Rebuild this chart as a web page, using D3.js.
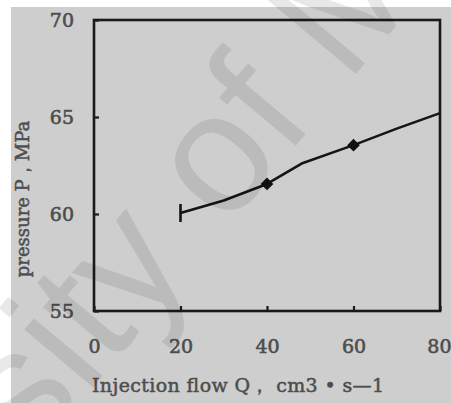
<!DOCTYPE html>
<html>
<head>
<meta charset="utf-8">
<script src="https://cdn.jsdelivr.net/npm/d3@7"></script>
<style>
  body { margin: 0; background: #fff; }
  svg { display: block; }
</style>
</head>
<body>
<svg id="chart" width="451" height="403"></svg>
<script>
// values
const curveQ = [20, 30, 40, 48, 60, 70, 80];
const curveP = [60.05, 60.7, 61.55, 62.6, 63.55, 64.4, 65.2];
const markQ = [40, 60];
const markP = [61.55, 63.55];
const startQ = [20];
const startP = [60.05];
const xTicks = [0, 20, 40, 60, 80];
const yTicks = [55, 60, 65, 70];
const xTitle = "Injection flow Q， cm3 • s—1";
const yTitle = "pressure P，MPa";
const watermark = "University of Mining";

const svg = d3.select("#chart");

// scanned page background
svg.append("rect").attr("x", 11).attr("y", 7).attr("width", 440).attr("height", 396).attr("fill", "#cecece");

const x = d3.scaleLinear().domain([0, 80]).range([94, 440]);
const y = d3.scaleLinear().domain([55, 70]).range([311, 20]);

const serif = "'DejaVu Serif', serif";
const ink = "#4d4d4d";

// axes
const gx = svg.append("g")
  .attr("transform", "translate(0," + y(55) + ")")
  .call(d3.axisBottom(x).tickValues(xTicks).tickSize(-5).tickSizeOuter(0).tickPadding(29));
const gy = svg.append("g")
  .attr("transform", "translate(" + x(0) + ",0)")
  .call(d3.axisLeft(y).tickValues(yTicks).tickSize(-5).tickSizeOuter(0).tickPadding(20));

[gx, gy].forEach(function(g) {
  g.select(".domain").remove();
  g.selectAll("line").attr("stroke", "#1a1a1a").attr("stroke-width", 2.2);
  g.selectAll("text")
    .attr("fill", ink)
    .attr("stroke", ink)
    .attr("stroke-width", 0.6)
    .style("font-family", serif)
    .style("font-size", "19px");
});
// last label sits right at the page edge
gx.selectAll(".tick:last-of-type text").attr("text-anchor", "end").attr("x", 11);

// frame
svg.append("rect")
  .attr("x", x(0)).attr("y", y(70))
  .attr("width", x(80) - x(0)).attr("height", y(55) - y(70))
  .attr("fill", "none").attr("stroke", "#1a1a1a").attr("stroke-width", 2.6);

// curve
const pts = curveQ.map(function(q, i) { return [q, curveP[i]]; });
const line = d3.line().x(function(d) { return x(d[0]); }).y(function(d) { return y(d[1]); });
svg.append("path")
  .datum(pts)
  .attr("fill", "none")
  .attr("stroke", "#151515")
  .attr("stroke-width", 2.6)
  .attr("stroke-linejoin", "round")
  .attr("d", line);

// start bar
svg.selectAll(".bar")
  .data(startQ)
  .join("line")
  .attr("x1", function(d) { return x(d); })
  .attr("x2", function(d) { return x(d); })
  .attr("y1", function(d, i) { return y(startP[i]) - 9; })
  .attr("y2", function(d, i) { return y(startP[i]) + 9; })
  .attr("stroke", "#151515")
  .attr("stroke-width", 2.6);

// diamond markers
svg.selectAll(".mark")
  .data(markQ)
  .join("path")
  .attr("d", d3.symbol().type(d3.symbolSquare).size(80))
  .attr("transform", function(d, i) { return "translate(" + x(d) + "," + y(markP[i]) + ") rotate(45)"; })
  .attr("fill", "#111");

// axis titles
svg.append("text")
  .attr("x", 92).attr("y", 392)
  .attr("textLength", 292)
  .attr("fill", ink)
  .attr("stroke", ink)
  .attr("stroke-width", 0.5)
  .style("font-family", serif)
  .style("font-size", "19px")
  .text(xTitle);

svg.append("text")
  .attr("transform", "translate(29,199) rotate(-90)")
  .attr("text-anchor", "middle")
  .attr("fill", ink)
  .attr("stroke", ink)
  .attr("stroke-width", 0.5)
  .style("font-family", serif)
  .style("font-size", "18px")
  .text(yTitle);

// watermark across the page
const wm = svg.append("g").attr("transform", "translate(222,165) rotate(-50)");
const wt = wm.append("text")
  .attr("fill", "#000")
  .attr("fill-opacity", 0.09)
  .style("font-family", "'Liberation Sans', Arial, sans-serif")
  .style("font-size", "170px")
  .text(watermark);
const idx = watermark.indexOf(" of") + 1;
const pre = wt.node().getSubStringLength(0, idx);
const ow = wt.node().getSubStringLength(idx, 1);
wt.attr("x", -(pre + ow / 2)).attr("y", 170 * 0.26);
</script>
</body>
</html>
